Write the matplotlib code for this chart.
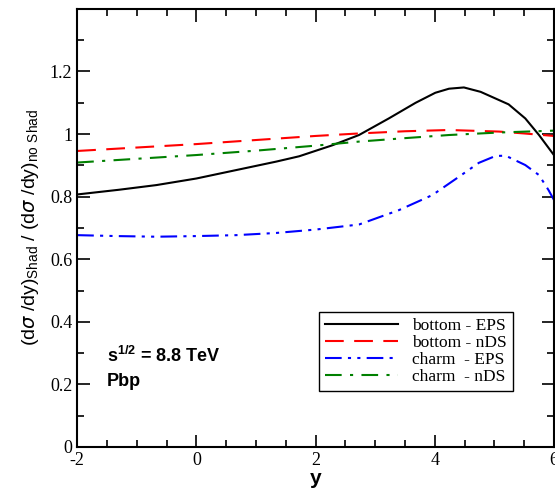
import numpy as np
import matplotlib
matplotlib.use("Agg")
import matplotlib.pyplot as plt
from matplotlib.ticker import MultipleLocator, FuncFormatter

# values
y_b_eps = [-2.0, -1.3, -0.67, 0.0, 0.67, 1.34, 1.725, 2.01, 2.28, 2.73, 3.23, 3.68, 4.01, 4.24, 4.49, 4.77, 5.24, 5.52, 5.75, 6.0]
r_b_eps = [0.807, 0.822, 0.837, 0.858, 0.885, 0.912, 0.929, 0.947, 0.964, 0.997, 1.050, 1.100, 1.132, 1.145, 1.149, 1.135, 1.095, 1.050, 0.997, 0.933]

y_b_nds = [-2.0, -1.0, 0.0, 1.0, 2.0, 2.73, 3.5, 4.24, 5.08, 5.5, 6.0]
r_b_nds = [0.946, 0.957, 0.968, 0.981, 0.994, 1.002, 1.009, 1.013, 1.008, 1.002, 0.994]

y_c_eps = [-2.0, -1.33, -0.67, 0.0, 0.67, 1.34, 2.01, 2.73, 3.40, 3.96, 4.41, 4.74, 5.02, 5.19, 5.52, 5.75, 5.91, 6.0]
r_c_eps = [0.677, 0.674, 0.672, 0.674, 0.677, 0.684, 0.695, 0.711, 0.757, 0.805, 0.864, 0.908, 0.930, 0.931, 0.901, 0.869, 0.821, 0.79]

y_c_nds = [-2.0, -1.0, 0.0, 1.0, 2.0, 2.73, 3.5, 4.24, 5.08, 6.0]
r_c_nds = [0.909, 0.921, 0.933, 0.947, 0.963, 0.976, 0.987, 0.997, 1.005, 1.011]

plt.rcParams['mathtext.fontset'] = 'custom'
plt.rcParams['mathtext.rm'] = 'Liberation Sans'
plt.rcParams['mathtext.bf'] = 'Liberation Sans:bold'

fig = plt.figure(figsize=(5.55, 4.95), dpi=100)
ax = fig.add_axes([0.139, 0.097, 0.859, 0.885])

ax.plot(y_b_eps, r_b_eps, color="black", lw=1.5, label="bottom - EPS")
ax.plot(y_b_nds, r_b_nds, color="red", lw=1.5, dashes=(9, 5), label="bottom - nDS")
ax.plot(y_c_eps, r_c_eps, color="blue", lw=1.5, dashes=(8, 3, 1.5, 3, 1.5, 3), label="charm  - EPS")
ax.plot(y_c_nds, r_c_nds, color="green", lw=1.5, dashes=(8, 4, 1.5, 4), label="charm  - nDS")

ax.set_xlim(-2, 6)
ax.set_ylim(0, 1.4)
ax.xaxis.set_major_locator(MultipleLocator(2))
ax.xaxis.set_minor_locator(MultipleLocator(0.5))
ax.yaxis.set_major_locator(MultipleLocator(0.2))
ax.yaxis.set_minor_locator(MultipleLocator(0.1))
ax.xaxis.set_major_formatter(FuncFormatter(lambda v, p: "%g" % round(v, 3)))
ax.yaxis.set_major_formatter(FuncFormatter(lambda v, p: "" if v > 1.3 else "%g" % round(v, 3)))
ax.tick_params(which="both", direction="in", top=True, right=True, width=1.2)
ax.tick_params(which="major", length=9, labelsize=13)
ax.tick_params(which="minor", length=5)
for lab in ax.get_xticklabels() + ax.get_yticklabels():
    lab.set_fontfamily("Liberation Serif")
for s in ax.spines.values():
    s.set_linewidth(1.5)

ax.set_xlabel("y", fontsize=15, fontweight="bold", family="Liberation Sans", labelpad=0)
ax.set_ylabel(r"(d$\sigma$ /dy)$_{\mathrm{Shad}}$ / (d$\sigma$ /dy)$_{\mathrm{no\ Shad}}$",
              fontsize=14, family="Liberation Sans", labelpad=6)

ax.text(-1.5, 0.29, r"s$^{\mathbf{1/2}}$ = 8.8 TeV", fontsize=13, fontweight="bold",
        family="Liberation Sans", va="center")
ax.text(-1.5, 0.21, "Pbp", fontsize=13, fontweight="bold", family="Liberation Sans", va="center")

leg = ax.legend(loc="lower right", bbox_to_anchor=(0.914, 0.128), fancybox=False,
                edgecolor="black", framealpha=1, prop={"family": "Liberation Serif", "size": 12.5},
                handlelength=4.2, labelspacing=0.05, borderpad=0.35, borderaxespad=0)
leg.get_frame().set_linewidth(1.0)

fig.savefig("out.png", dpi=100)
